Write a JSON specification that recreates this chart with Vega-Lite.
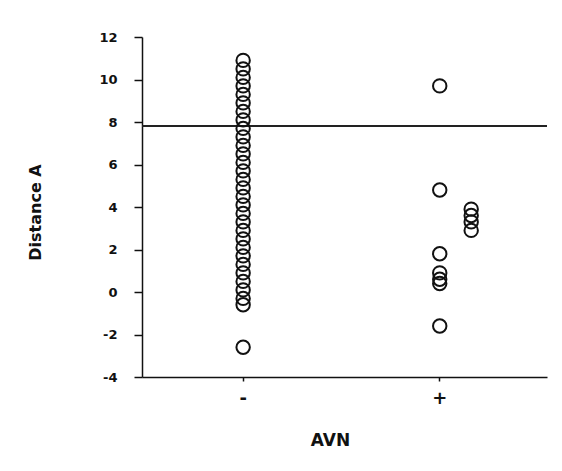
{
  "$schema": "https://vega.github.io/schema/vega-lite/v6.json",
  "autosize": {"type": "none"},
  "padding": {"left": 142, "top": 37, "right": 15, "bottom": 94},
  "width": 405,
  "height": 340,
  "background": "white",
  "config": {
    "view": {"stroke": null},
    "font": "DejaVu Sans",
    "axis": {"domainColor": "#111", "tickColor": "#111", "labelColor": "#111", "titleColor": "#111", "grid": false, "domainWidth": 1.5, "tickWidth": 1.5}
  },
  "data": {
    "values": [
      {"avn": "-", "distance": 10.9, "stack": "main"},
      {"avn": "-", "distance": 10.5, "stack": "main"},
      {"avn": "-", "distance": 10.1, "stack": "main"},
      {"avn": "-", "distance": 9.7, "stack": "main"},
      {"avn": "-", "distance": 9.3, "stack": "main"},
      {"avn": "-", "distance": 8.9, "stack": "main"},
      {"avn": "-", "distance": 8.5, "stack": "main"},
      {"avn": "-", "distance": 8.1, "stack": "main"},
      {"avn": "-", "distance": 7.7, "stack": "main"},
      {"avn": "-", "distance": 7.3, "stack": "main"},
      {"avn": "-", "distance": 6.9, "stack": "main"},
      {"avn": "-", "distance": 6.5, "stack": "main"},
      {"avn": "-", "distance": 6.1, "stack": "main"},
      {"avn": "-", "distance": 5.7, "stack": "main"},
      {"avn": "-", "distance": 5.3, "stack": "main"},
      {"avn": "-", "distance": 4.9, "stack": "main"},
      {"avn": "-", "distance": 4.5, "stack": "main"},
      {"avn": "-", "distance": 4.1, "stack": "main"},
      {"avn": "-", "distance": 3.7, "stack": "main"},
      {"avn": "-", "distance": 3.3, "stack": "main"},
      {"avn": "-", "distance": 2.9, "stack": "main"},
      {"avn": "-", "distance": 2.5, "stack": "main"},
      {"avn": "-", "distance": 2.1, "stack": "main"},
      {"avn": "-", "distance": 1.7, "stack": "main"},
      {"avn": "-", "distance": 1.3, "stack": "main"},
      {"avn": "-", "distance": 0.9, "stack": "main"},
      {"avn": "-", "distance": 0.5, "stack": "main"},
      {"avn": "-", "distance": 0.1, "stack": "main"},
      {"avn": "-", "distance": -0.3, "stack": "main"},
      {"avn": "-", "distance": -0.6, "stack": "main"},
      {"avn": "-", "distance": -2.6, "stack": "main"},
      {"avn": "+", "distance": 9.7, "stack": "main"},
      {"avn": "+", "distance": 4.8, "stack": "main"},
      {"avn": "+", "distance": 3.9, "stack": "side"},
      {"avn": "+", "distance": 3.6, "stack": "side"},
      {"avn": "+", "distance": 3.3, "stack": "side"},
      {"avn": "+", "distance": 2.9, "stack": "side"},
      {"avn": "+", "distance": 1.8, "stack": "main"},
      {"avn": "+", "distance": 0.9, "stack": "main"},
      {"avn": "+", "distance": 0.6, "stack": "main"},
      {"avn": "+", "distance": 0.4, "stack": "main"},
      {"avn": "+", "distance": -1.6, "stack": "main"}
    ]
  },
  "layer": [
    {
      "mark": {"type": "rule", "color": "#222", "strokeWidth": 1.5},
      "encoding": {"y": {"datum": 7.8, "type": "quantitative"}}
    },
    {
      "mark": {"type": "point", "shape": "circle", "filled": false, "stroke": "#111", "strokeWidth": 2, "size": 180, "opacity": 1},
      "encoding": {
        "x": {
          "field": "avn", "type": "nominal",
          "scale": {"type": "band", "domain": ["-", "+"], "paddingInner": 0.2, "paddingOuter": 0.13, "align": 0.44},
          "axis": {"title": "AVN", "labelAngle": 0, "labelFontSize": 18, "labelFontWeight": "bold", "labelPadding": 8, "tickSize": 4, "titleFontSize": 17, "titleFontWeight": "bold", "titleX": 188, "titleY": 68, "titleBaseline": "alphabetic", "titleAlign": "center"}
        },
        "xOffset": {
          "field": "stack", "type": "nominal",
          "scale": {"type": "band", "domain": ["far-left", "left", "main", "side", "far-side"], "paddingInner": 0, "paddingOuter": 0}
        },
        "y": {
          "field": "distance", "type": "quantitative",
          "scale": {"domain": [-4, 12], "nice": false, "zero": false},
          "axis": {
            "title": "Distance A",
            "values": [-4, -3, -2, -1, 0, 1, 2, 3, 4, 5, 6, 7, 8, 9, 10, 11, 12],
            "labelExpr": "datum.value % 2 == 0 ? '' + datum.value : ''",
            "tickSize": {"condition": {"test": "datum.value % 2 == 0", "value": 8}, "value": 5},
            "labelPadding": 17,
            "labelFontSize": 13,
            "labelFontWeight": "bold",
            "titleFontSize": 16,
            "titleFontWeight": "bold",
            "titleAngle": -90,
            "titleX": -107,
            "titleY": 175,
            "titleAlign": "center",
            "titleBaseline": "middle"
          }
        }
      }
    }
  ]
}
